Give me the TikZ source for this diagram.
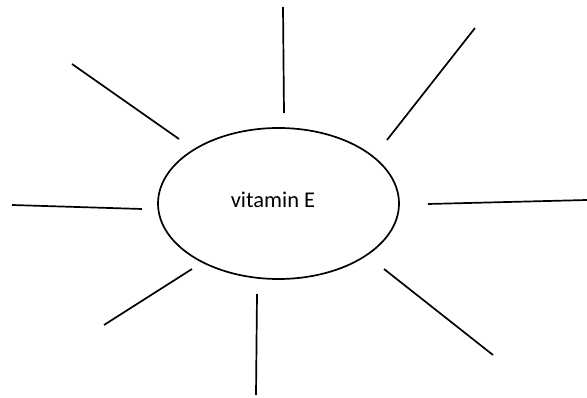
\documentclass[tikz,border=0pt]{standalone}
\usepackage{fontspec}
\setmainfont{Carlito}
\usetikzlibrary{shapes.geometric}
\tikzset{
  ray/.style={line width=1.7pt, line cap=butt},
  hub/.style={ellipse, draw, line width=1.7pt, inner sep=0pt, minimum width=241pt, minimum height=151pt},
}
\begin{document}
\begin{tikzpicture}[x=1pt,y=-1pt]
\useasboundingbox (0,0) rectangle (587,398);
\node[hub] (v) at (278.5,203.5) {};
\node[font=\fontsize{22.5}{26}\selectfont, anchor=base, inner sep=0pt] (t) at (273,207.7) {vitamin E};
% ray end points
\coordinate (a1) at (283,7);   \coordinate (a2) at (284,113);
\coordinate (b1) at (475,28);  \coordinate (b2) at (387,140);
\coordinate (c1) at (428,204); \coordinate (c2) at (587,200);
\coordinate (d1) at (384,269); \coordinate (d2) at (493,355);
\coordinate (e1) at (257,294); \coordinate (e2) at (256,395);
\coordinate (f1) at (192,269); \coordinate (f2) at (104,325);
\coordinate (g1) at (12,205);  \coordinate (g2) at (142,209);
\coordinate (h1) at (72,64);   \coordinate (h2) at (179,139);
\foreach \p in {a,b,c,d,e,f,g,h} \draw[ray] (\p1) -- (\p2);
\end{tikzpicture}
\end{document}
